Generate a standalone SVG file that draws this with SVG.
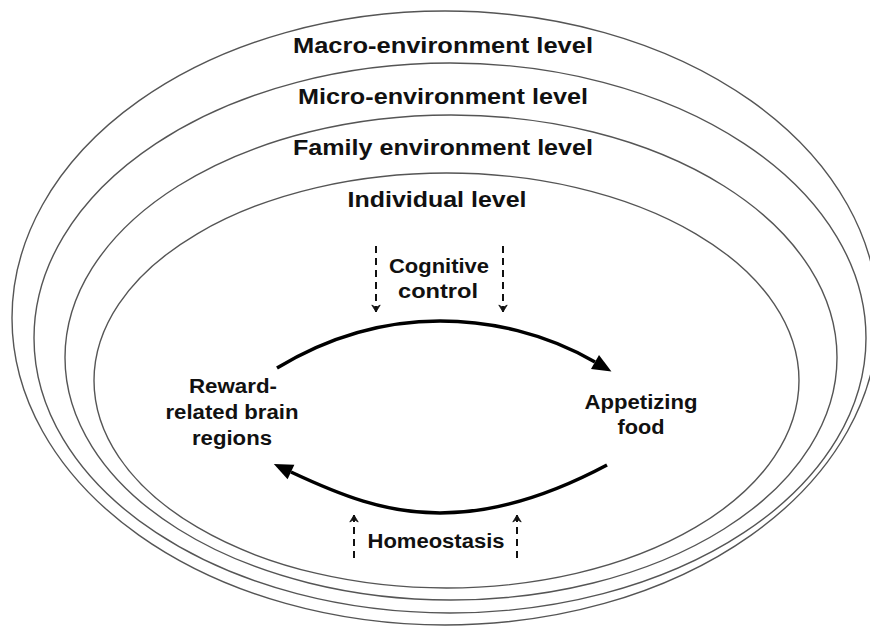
<svg xmlns="http://www.w3.org/2000/svg" width="870" height="629" viewBox="0 0 870 629">
<style>
.lvl{fill:none;stroke:#555;stroke-width:1.4}
.t{font-family:"Liberation Sans",Arial,sans-serif;font-weight:bold;fill:#111;text-anchor:middle}
.big{font-size:22.5px}
.sm{font-size:20px}
.main{fill:none;stroke:#000;stroke-width:3.5}
.dash{fill:none;stroke:#111;stroke-width:2;stroke-dasharray:7 5}
</style>
<defs>
<marker id="head" markerUnits="userSpaceOnUse" markerWidth="24" markerHeight="20" refX="0" refY="0" viewBox="-1 -10 22 20" orient="auto" overflow="visible">
<path d="M0,-8 L19,0 L0,8 z" fill="#000"/>
</marker>
<marker id="chev" markerUnits="userSpaceOnUse" markerWidth="12" markerHeight="12" refX="0" refY="0" viewBox="-8 -6 10 12" orient="auto" overflow="visible">
<path d="M-7,-4.2 L0,0 L-7,4.2 L-4.5,0 z" fill="#111" stroke="#111" stroke-width="0.8" stroke-dasharray="none"/>
</marker>
</defs>
<rect width="870" height="629" fill="#fff"/>
<g id="macro">
<ellipse class="lvl" cx="445" cy="318" rx="433" ry="307"/>
<text class="t big" x="443" y="53" textLength="300" lengthAdjust="spacingAndGlyphs">Macro-environment level</text>
</g>
<g id="micro">
<ellipse class="lvl" cx="450" cy="338" rx="416" ry="275"/>
<text class="t big" x="443" y="104" textLength="290" lengthAdjust="spacingAndGlyphs">Micro-environment level</text>
</g>
<g id="family">
<ellipse class="lvl" cx="451" cy="357.5" rx="386" ry="242.5"/>
<text class="t big" x="443" y="155" textLength="300" lengthAdjust="spacingAndGlyphs">Family environment level</text>
</g>
<g id="individual">
<ellipse class="lvl" cx="446.5" cy="380.5" rx="352.5" ry="207.5"/>
<text class="t big" x="437" y="207" textLength="179" lengthAdjust="spacingAndGlyphs">Individual level</text>
</g>
<g id="cognitive">
<text class="t sm" x="439" y="273" textLength="100" lengthAdjust="spacingAndGlyphs">Cognitive</text>
<text class="t sm" x="438" y="298" textLength="80" lengthAdjust="spacingAndGlyphs">control</text>
</g>
<g id="reward">
<text class="t sm" x="233" y="393" textLength="88" lengthAdjust="spacingAndGlyphs">Reward-</text>
<text class="t sm" x="232" y="419" textLength="133" lengthAdjust="spacingAndGlyphs">related brain</text>
<text class="t sm" x="232" y="445" textLength="80" lengthAdjust="spacingAndGlyphs">regions</text>
</g>
<g id="food">
<text class="t sm" x="641" y="409" textLength="113" lengthAdjust="spacingAndGlyphs">Appetizing</text>
<text class="t sm" x="641" y="434" textLength="47" lengthAdjust="spacingAndGlyphs">food</text>
</g>
<g id="homeostasis">
<text class="t sm" x="436" y="548" textLength="137" lengthAdjust="spacingAndGlyphs">Homeostasis</text>
</g>
<g id="connectors">
<path class="main" d="M277,368 C330,336 385,321 440,321 C490,321 545,333 595,362" marker-end="url(#head)"/>
<path class="main" d="M607,465 C560,490 500,513 440,513 C385,513 340,495 291,472" marker-end="url(#head)"/>
<path class="dash" d="M376,246 L376,312" marker-end="url(#chev)"/>
<path class="dash" d="M503,246 L503,312" marker-end="url(#chev)"/>
<path class="dash" d="M354,558 L354,515" marker-end="url(#chev)"/>
<path class="dash" d="M517,558 L517,515" marker-end="url(#chev)"/>
</g>
</svg>
